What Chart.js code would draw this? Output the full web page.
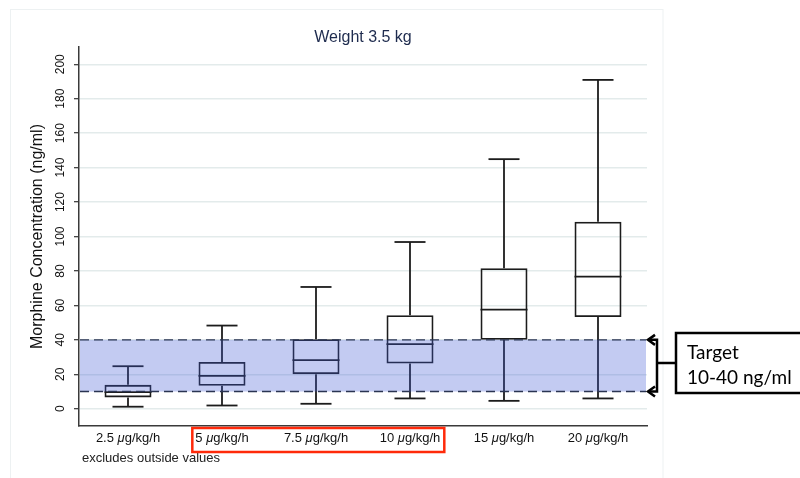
<!DOCTYPE html>
<html>
<head>
<meta charset="utf-8">
<script src="https://cdn.jsdelivr.net/npm/chart.js@4.4.1/dist/chart.umd.min.js"></script>
<style>
  html, body { margin: 0; padding: 0; background: #ffffff; }
  #wrap { width: 800px; height: 478px; }
</style>
</head>
<body>
<div id="wrap"><canvas id="chart" width="800" height="478"></canvas></div>
<script>
// Morphine infusion rates and concentration summaries (ng/ml)
const doseRates   = [2.5, 5, 7.5, 10, 15, 20];
const doseUnit    = 'μg/kg/h';
const whiskerLow  = [1.2, 1.9, 2.9, 6.0, 4.6, 6.0];
const quartile1   = [6.6, 13.3, 20.1, 26.3, 40.0, 53.3];
const medians     = [9.7, 19.1, 28.2, 37.5, 57.6, 76.7];
const quartile3   = [13.9, 27.2, 40.4, 54.3, 81.6, 108.6];
const whiskerHigh = [24.7, 48.3, 70.7, 96.8, 144.9, 190.9];

const yTicks = [0, 20, 40, 60, 80, 100, 120, 140, 160, 180, 200];
const targetRange = [10, 40];
const highlightedDoses = [5, 7.5, 10];

const titleText = 'Weight 3.5 kg';
const yTitle = 'Morphine Concentration (ng/ml)';
const noteText = 'excludes outside values';

const labels = doseRates.map(d => d + ' ' + doseUnit);
const FONT = '"Liberation Sans", Arial, sans-serif';

function line(ctx, x1, y1, x2, y2) {
  ctx.beginPath(); ctx.moveTo(x1, y1); ctx.lineTo(x2, y2); ctx.stroke();
}

// Dose label with an italic mu
function labelParts(d) {
  return [{ t: d + ' ', f: '13px ' + FONT }, { t: 'μ', f: 'italic 13px ' + FONT }, { t: doseUnit.slice(1), f: '13px ' + FONT }];
}
function partsWidth(ctx, parts) {
  return parts.reduce((w, p) => { ctx.font = p.f; return w + ctx.measureText(p.t).width; }, 0);
}

const boxExtras = {
  id: 'boxExtras',
  // keep the categories a little inside the axis lines
  afterLayout(chart) {
    const x = chart.scales.x;
    const inset = 2;
    x._startPixel = x.left + inset;
    x._endPixel = x.right - inset;
    x._length = x._endPixel - x._startPixel;
  },
  afterDatasetsDraw(chart) {
    const { ctx, chartArea: a, scales: { x, y } } = chart;
    const meta = chart.getDatasetMeta(0);
    ctx.save();
    ctx.strokeStyle = '#1c1c1c';
    ctx.lineWidth = 1.8;
    doseRates.forEach((d, i) => {
      const bar = meta.data[i];
      const cx = x.getPixelForValue(i);
      const half = bar.width / 2;
      const cap = bar.width * 0.33;
      const pHi = y.getPixelForValue(whiskerHigh[i]);
      const pLo = y.getPixelForValue(whiskerLow[i]);
      const pQ1 = y.getPixelForValue(quartile1[i]);
      const pQ3 = y.getPixelForValue(quartile3[i]);
      const pMed = y.getPixelForValue(medians[i]);
      line(ctx, cx, pQ3, cx, pHi);
      line(ctx, cx, pQ1, cx, pLo);
      line(ctx, cx - cap, pHi, cx + cap, pHi);
      line(ctx, cx - cap, pLo, cx + cap, pLo);
      line(ctx, cx - half, pMed, cx + half, pMed);
    });

    // translucent target band laid over the boxes
    const yT = y.getPixelForValue(targetRange[1]);
    const yB = y.getPixelForValue(targetRange[0]);
    ctx.fillStyle = 'rgba(60, 86, 212, 0.31)';
    ctx.fillRect(a.left + 1, yT, a.right - a.left - 2, yB - yT);
    ctx.setLineDash([9, 5]);
    ctx.strokeStyle = '#2a3452';
    ctx.lineWidth = 1.4;
    line(ctx, a.left + 1, yT, a.right - 1, yT);
    line(ctx, a.left + 1, yB, a.right - 1, yB);
    ctx.restore();
  },
  afterDraw(chart) {
    const { ctx, chartArea: a, scales: { x, y } } = chart;
    ctx.save();

    // outer frame
    ctx.strokeStyle = '#edf1f2';
    ctx.lineWidth = 1;
    ctx.strokeRect(10.5, 9.5, 652.5, 490);

    // title
    ctx.fillStyle = '#1e2b4e';
    ctx.font = '16px ' + FONT;
    ctx.textAlign = 'center';
    ctx.textBaseline = 'alphabetic';
    ctx.fillText(titleText, (a.left + a.right) / 2, 42);

    // y-axis title
    ctx.fillStyle = '#111111';
    ctx.save();
    ctx.translate(38, (a.top + a.bottom) / 2);
    ctx.rotate(-Math.PI / 2);
    ctx.textBaseline = 'middle';
    ctx.fillText(yTitle, 0, 0);
    ctx.restore();

    // y tick labels, rotated
    ctx.font = '12px ' + FONT;
    yTicks.forEach(v => {
      ctx.save();
      ctx.translate(61, y.getPixelForValue(v));
      ctx.rotate(-Math.PI / 2);
      ctx.textAlign = 'center';
      ctx.textBaseline = 'middle';
      ctx.fillText(String(v), 0, 0);
      ctx.restore();
    });

    // x labels
    ctx.textAlign = 'left';
    ctx.textBaseline = 'alphabetic';
    const extents = [];
    doseRates.forEach((d, i) => {
      const parts = labelParts(d);
      const w = partsWidth(ctx, parts);
      const cx = x.getPixelForValue(i);
      let px = cx - w / 2;
      extents.push([px, px + w]);
      parts.forEach(p => { ctx.font = p.f; ctx.fillText(p.t, px, 442); px += ctx.measureText(p.t).width; });
    });

    // note under the axis
    ctx.font = '13px ' + FONT;
    ctx.fillStyle = '#222222';
    ctx.fillText(noteText, 82, 462);

    // highlight around selected dose labels
    const first = doseRates.indexOf(highlightedDoses[0]);
    const last = doseRates.indexOf(highlightedDoses[highlightedDoses.length - 1]);
    ctx.strokeStyle = '#ff2a0a';
    ctx.lineWidth = 2.5;
    ctx.strokeRect(extents[first][0] - 3, 428, extents[last][1] - extents[first][0] + 7, 24);

    // target annotation
    const yT = y.getPixelForValue(targetRange[1]);
    const yB = y.getPixelForValue(targetRange[0]);
    const tip = a.right + 1;
    const bx = a.right + 10;
    const boxL = a.right + 29, boxT = 333, boxH = 60;
    const mid = boxT + boxH / 2;
    ctx.strokeStyle = '#000000';
    ctx.lineWidth = 2.5;
    ctx.lineJoin = 'miter';
    ctx.beginPath();
    ctx.moveTo(tip, yT); ctx.lineTo(bx, yT); ctx.lineTo(bx, yB); ctx.lineTo(tip, yB);
    ctx.stroke();
    [yT, yB].forEach(yy => {
      ctx.beginPath();
      ctx.moveTo(tip + 7, yy - 5); ctx.lineTo(tip, yy); ctx.lineTo(tip + 7, yy + 5);
      ctx.stroke();
    });
    line(ctx, bx, mid, boxL, mid);
    ctx.strokeRect(boxL, boxT, 160, boxH);
    ctx.fillStyle = '#000000';
    ctx.font = '19px Lato, "Open Sans", sans-serif';
    ctx.fillText('Target', boxL + 11, 359);
    ctx.fillText(targetRange[0] + '-' + targetRange[1] + ' ng/ml', boxL + 11, 384);

    ctx.restore();
  }
};

new Chart(document.getElementById('chart'), {
  type: 'bar',
  data: {
    labels: labels,
    datasets: [{
      label: 'Interquartile range',
      data: quartile1.map((v, i) => [v, quartile3[i]]),
      backgroundColor: 'rgba(0,0,0,0)',
      borderColor: '#1c1c1c',
      borderWidth: 1.8,
      borderSkipped: false,
      barPercentage: 0.5,
      categoryPercentage: 1.0
    }]
  },
  options: {
    responsive: false,
    animation: false,
    devicePixelRatio: 1,
    layout: { padding: { top: 47, right: 153, bottom: 0, left: 0 } },
    plugins: { legend: { display: false }, tooltip: { enabled: false }, title: { display: false } },
    scales: {
      x: {
        offset: true,
        grid: { display: false },
        border: { display: true, color: '#3a3a3a', width: 1.5 },
        ticks: { display: false },
        afterFit(scale) { scale.height = 52; }
      },
      y: {
        min: -10,
        max: 210,
        afterBuildTicks(scale) { scale.ticks = yTicks.map(v => ({ value: v })); },
        grid: { color: '#e3ebeb', lineWidth: 1.4, tickColor: '#333333', tickLength: 5, tickWidth: 1.2 },
        border: { display: true, color: '#3a3a3a', width: 1.5 },
        ticks: { display: false },
        afterFit(scale) { scale.width = 79; }
      }
    }
  },
  plugins: [boxExtras]
});
</script>
</body>
</html>
